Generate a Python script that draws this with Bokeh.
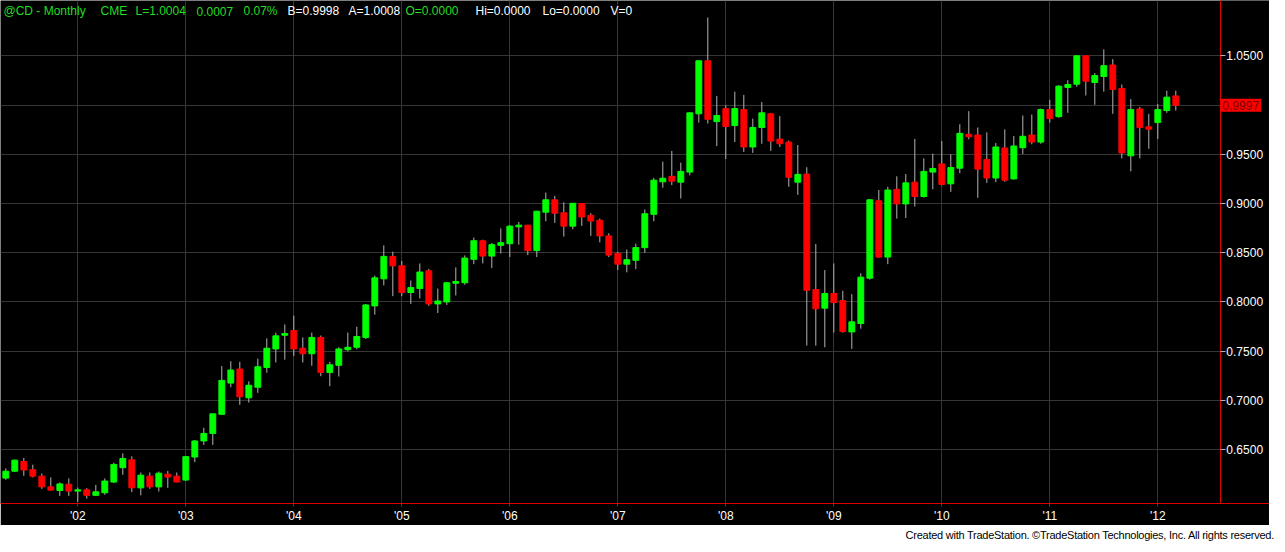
import pandas as pd
from bokeh.plotting import figure
from bokeh.models import (ColumnDataSource, FixedTicker, Label, Div, Range1d,
                          PrintfTickFormatter, BoxAnnotation)
from bokeh.layouts import column
from bokeh.embed import file_html
from bokeh.resources import INLINE

# ---- data (monthly CAD futures) ----
start_month = "2001-05"
open_ = [0.6211, 0.6281, 0.6380, 0.6297, 0.6231, 0.6122, 0.6085, 0.6149, 0.6079, 0.6092,
         0.6036, 0.6062, 0.6171, 0.6317, 0.6397, 0.6112, 0.6231, 0.6122, 0.6251, 0.6231,
         0.6191, 0.6425, 0.6588, 0.6665, 0.6859, 0.7176, 0.7319, 0.7027, 0.7134, 0.7335,
         0.7523, 0.7662, 0.7709, 0.7530, 0.7474, 0.7640, 0.7283, 0.7357, 0.7515, 0.7540,
         0.7640, 0.7960, 0.8235, 0.8463, 0.8367, 0.8096, 0.8136, 0.8317, 0.7980, 0.8000,
         0.8190, 0.8195, 0.8433, 0.8622, 0.8466, 0.8575, 0.8592, 0.8763, 0.8780, 0.8522,
         0.8912, 0.9038, 0.8906, 0.8770, 0.8999, 0.8880, 0.8830, 0.8671, 0.8493, 0.8384,
         0.8423, 0.8552, 0.8890, 0.9220, 0.9276, 0.9217, 0.9319, 0.9911, 1.0450, 0.9832,
         0.9964, 0.9792, 0.9954, 0.9574, 0.9772, 0.9911, 0.9654, 0.9624, 0.9217, 0.9299,
         0.8126, 0.7937, 0.8086, 0.8014, 0.7696, 0.7781, 0.8242, 0.9028, 0.8456, 0.9144,
         0.8996, 0.9217, 0.9071, 0.9319, 0.9402, 0.9200, 0.9359, 0.9703, 0.9696, 0.9448,
         0.9259, 0.9564, 0.9250, 0.9567, 0.9696, 0.9624, 0.9954, 0.9882, 1.0179, 1.0212,
         1.0500, 1.0229, 1.0291, 1.0407, 1.0169, 0.9485, 0.9961, 0.9779, 0.9822, 0.9944,
         1.0093]
high = [0.6310, 0.6400, 0.6416, 0.6347, 0.6258, 0.6218, 0.6168, 0.6208, 0.6115, 0.6109,
        0.6142, 0.6208, 0.6367, 0.6462, 0.6432, 0.6268, 0.6268, 0.6278, 0.6284, 0.6268,
        0.6436, 0.6598, 0.6722, 0.6866, 0.7349, 0.7398, 0.7392, 0.7193, 0.7424, 0.7630,
        0.7689, 0.7772, 0.7861, 0.7640, 0.7689, 0.7659, 0.7392, 0.7540, 0.7689, 0.7749,
        0.7980, 0.8268, 0.8575, 0.8510, 0.8416, 0.8218, 0.8391, 0.8334, 0.8136, 0.8202,
        0.8351, 0.8473, 0.8654, 0.8632, 0.8599, 0.8748, 0.8780, 0.8813, 0.8782, 0.8925,
        0.9111, 0.9078, 0.9012, 0.9005, 0.9002, 0.8902, 0.8847, 0.8698, 0.8510, 0.8532,
        0.8592, 0.8939, 0.9260, 0.9425, 0.9534, 0.9415, 0.9928, 1.0452, 1.0890, 1.0093,
        0.9998, 1.0136, 1.0103, 0.9862, 1.0030, 0.9921, 0.9888, 0.9640, 0.9594, 0.9369,
        0.8589, 0.8324, 0.8391, 0.8113, 0.8079, 0.8291, 0.9045, 0.9137, 0.9170, 0.9276,
        0.9299, 0.9656, 0.9458, 0.9507, 0.9634, 0.9501, 0.9805, 0.9938, 0.9772, 0.9723,
        0.9614, 0.9753, 0.9686, 0.9894, 0.9904, 0.9964, 1.0053, 1.0202, 1.0252, 1.0503,
        1.0503, 1.0325, 1.0566, 1.0467, 1.0209, 1.0060, 0.9981, 0.9911, 1.0010, 1.0146,
        1.0146]
low = [0.6194, 0.6274, 0.6234, 0.6218, 0.6102, 0.6085, 0.6030, 0.6030, 0.5970, 0.6003,
       0.6030, 0.6042, 0.6161, 0.6244, 0.6069, 0.6036, 0.6102, 0.6075, 0.6112, 0.6168,
       0.6185, 0.6373, 0.6548, 0.6548, 0.6855, 0.7134, 0.6955, 0.6978, 0.7077, 0.7282,
       0.7385, 0.7414, 0.7451, 0.7385, 0.7352, 0.7246, 0.7144, 0.7243, 0.7498, 0.7520,
       0.7623, 0.7871, 0.8168, 0.8059, 0.8059, 0.7980, 0.8036, 0.7960, 0.7888, 0.7970,
       0.8066, 0.8175, 0.8384, 0.8391, 0.8344, 0.8493, 0.8456, 0.8582, 0.8476, 0.8456,
       0.8820, 0.8803, 0.8664, 0.8738, 0.8773, 0.8671, 0.8605, 0.8456, 0.8324, 0.8301,
       0.8334, 0.8500, 0.8820, 0.9160, 0.9187, 0.9051, 0.9286, 0.9822, 0.9812, 0.9584,
       0.9452, 0.9624, 0.9524, 0.9514, 0.9607, 0.9534, 0.9574, 0.9170, 0.9088, 0.7557,
       0.7557, 0.7540, 0.7689, 0.7689, 0.7523, 0.7729, 0.8228, 0.8450, 0.8384, 0.8847,
       0.8853, 0.8969, 0.9061, 0.9144, 0.9184, 0.9118, 0.9309, 0.9653, 0.9058, 0.9210,
       0.9217, 0.9220, 0.9244, 0.9502, 0.9601, 0.9607, 0.9822, 0.9872, 0.9921, 1.0186,
       1.0097, 1.0003, 1.0136, 0.9911, 0.9458, 0.9326, 0.9458, 0.9557, 0.9656, 0.9921,
       0.9944]
close = [0.6281, 0.6393, 0.6293, 0.6231, 0.6122, 0.6089, 0.6152, 0.6079, 0.6092, 0.6036,
         0.6072, 0.6181, 0.6350, 0.6410, 0.6112, 0.6241, 0.6122, 0.6261, 0.6221, 0.6171,
         0.6429, 0.6588, 0.6665, 0.6864, 0.7203, 0.7309, 0.7037, 0.7154, 0.7342, 0.7530,
         0.7656, 0.7679, 0.7523, 0.7474, 0.7640, 0.7285, 0.7362, 0.7523, 0.7540, 0.7649,
         0.7970, 0.8245, 0.8463, 0.8367, 0.8096, 0.8146, 0.8304, 0.7980, 0.8010, 0.8195,
         0.8208, 0.8446, 0.8622, 0.8466, 0.8582, 0.8602, 0.8770, 0.8780, 0.8522, 0.8922,
         0.9038, 0.8902, 0.8770, 0.9002, 0.8863, 0.8823, 0.8671, 0.8476, 0.8384, 0.8430,
         0.8552, 0.8896, 0.9237, 0.9257, 0.9227, 0.9326, 0.9921, 1.0450, 0.9855, 0.9894,
         0.9782, 0.9964, 0.9574, 0.9772, 0.9921, 0.9634, 0.9607, 0.9266, 0.9296, 0.8119,
         0.7930, 0.8086, 0.7994, 0.7699, 0.7798, 0.8252, 0.9038, 0.8456, 0.9137, 0.8996,
         0.9210, 0.9071, 0.9326, 0.9356, 0.9194, 0.9366, 0.9713, 0.9678, 0.9349, 0.9259,
         0.9574, 0.9237, 0.9584, 0.9683, 0.9624, 0.9954, 0.9862, 1.0192, 1.0209, 1.0500,
         1.0242, 1.0301, 1.0400, 1.0159, 0.9514, 0.9954, 0.9772, 0.9755, 0.9954, 1.0080,
         0.9997]
price_ticks = [0.65, 0.70, 0.75, 0.80, 0.85, 0.90, 0.95, 1.05]
grid_levels = [0.65, 0.70, 0.75, 0.80, 0.85, 0.90, 0.95, 1.00, 1.05]
header_parts = [
    ("@CD - Monthly", 3, "#22dd22"), ("CME", 100, "#22dd22"), ("L=1.0004", 135, "#22dd22"),
    ("0.0007", 196, "#22dd22"), ("0.07%", 243, "#22dd22"), ("B=0.9998", 287, "#ffffff"),
    ("A=1.0008", 348, "#ffffff"), ("O=0.0000", 405, "#22dd22"), ("Hi=0.0000", 475, "#ffffff"),
    ("Lo=0.0000", 542, "#ffffff"), ("V=0", 610, "#ffffff"),
]
footer_text = "Created with TradeStation. \u00a9TradeStation Technologies, Inc. All rights reserved."

# ---- derived ----
months = pd.period_range(start_month, periods=len(close), freq="M")
idx = list(range(len(close)))
colors = ["#00ff00" if c >= o else "#ff0000" for o, c in zip(open_, close)]
src = ColumnDataSource(dict(
    x=idx, high=high, low=low,
    top=[max(o, c) for o, c in zip(open_, close)],
    bottom=[min(o, c) for o, c in zip(open_, close)],
    color=colors,
))
year_idx = [i for i, m in enumerate(months) if m.month == 1]
year_labels = {i: "'%02d" % (months[i].year % 100) for i in year_idx}

FONT = "Liberation Sans"
RED = "#e00000"
X0, X1 = -0.59, 140.41      # visible month-index span
AXIS_AT = 134.95            # where the price scale sits (month-index units)

p = figure(width=1269, height=525, output_backend="svg", toolbar_location=None, title=None,
           x_range=Range1d(X0, X1), y_range=Range1d(0.5953, 1.1062),
           y_axis_location="right", background_fill_color="black", border_fill_color="black",
           min_border_left=0, min_border_top=0, min_border_right=0, min_border_bottom=0)
p.outline_line_color = None

# grids
p.xgrid.ticker = FixedTicker(ticks=year_idx)
p.ygrid.ticker = FixedTicker(ticks=grid_levels)
p.xgrid.grid_line_color = "#363636"
p.ygrid.grid_line_color = "#363636"
# keep the price-scale strip clean of grid lines
p.add_layout(BoxAnnotation(left=AXIS_AT, fill_color="black", fill_alpha=1.0,
                           line_color=None, level="underlay"))

# x axis
p.xaxis.ticker = FixedTicker(ticks=year_idx)
p.xaxis.major_label_overrides = year_labels
p.xaxis.axis_line_color = RED
p.xaxis.major_tick_line_color = RED
p.xaxis.major_tick_in = 0
p.xaxis.major_tick_out = 3
p.xaxis.minor_tick_line_color = None
p.xaxis.major_label_standoff = 2
p.xaxis.major_label_text_color = "white"
p.xaxis.major_label_text_font = FONT
p.xaxis.major_label_text_font_size = "12px"

# y axis (right, pinned at the end of the bar area)
p.yaxis.fixed_location = AXIS_AT
p.yaxis.ticker = FixedTicker(ticks=price_ticks)
p.yaxis.formatter = PrintfTickFormatter(format="%.4f")
p.yaxis.axis_line_color = RED
p.yaxis.major_tick_line_color = "#b0b0b0"
p.yaxis.major_tick_in = 0
p.yaxis.major_tick_out = 5
p.yaxis.minor_tick_line_color = None
p.yaxis.major_label_standoff = 1
p.yaxis.major_label_text_color = "white"
p.yaxis.major_label_text_font = FONT
p.yaxis.major_label_text_font_size = "12px"

# candles
p.segment(x0="x", y0="high", x1="x", y1="low", source=src, line_color="#b4b4b4", line_width=1)
p.vbar(x="x", width=0.65, top="top", bottom="bottom", source=src,
       fill_color="color", line_color="color", line_width=1)

# header
for txt, xs, col in header_parts:
    p.add_layout(Label(x=xs, y=1.0951, x_units="screen", y_units="data", text=txt,
                       text_color=col, text_font=FONT, text_font_size="12px",
                       text_baseline="middle", text_align="left"))

# last price marker on the price scale
p.add_layout(Label(x=AXIS_AT, y=close[-1], x_units="data", y_units="data",
                   text="%.4f" % close[-1], text_color="#7a0000", text_font=FONT,
                   text_font_size="12px", text_baseline="middle", text_align="left",
                   x_offset=0, background_fill_color="#ff0000", padding=2))

footer = Div(text=footer_text, width=1269, height=11,
             styles={"text-align": "right",
                     "font-family": "'Liberation Sans Narrow', 'Arial Narrow', 'Liberation Sans', sans-serif",
                     "font-size": "11px", "line-height": "11px", "color": "black",
                     "letter-spacing": "-0.25px",
                     "background-color": "white", "white-space": "nowrap", "overflow": "hidden"})

layout = column(p, footer)
open("out.html", "w").write(file_html(layout, INLINE))
